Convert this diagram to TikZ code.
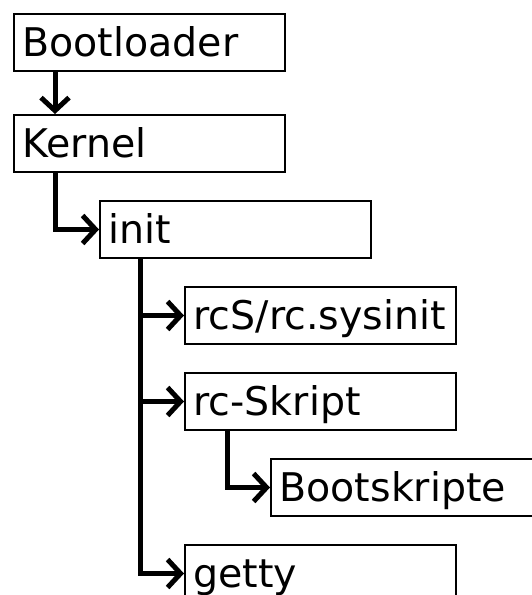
\documentclass[tikz,border=0pt]{standalone}
\usepackage{fontspec}
\setmainfont{DejaVu Sans}
\usetikzlibrary{arrows.meta}
\tikzset{
  box/.style={draw, line width=2pt, rectangle, anchor=north west,
    minimum height=57pt, text width=254pt, inner xsep=8.5pt, inner ysep=0pt,
    text height=28pt, text depth=0pt, align=left,
    font=\fontsize{39.5}{44}\selectfont},
  conn/.style={line width=5pt, -{Straight Barb[length=13pt,width=28pt]}}
}
\begin{document}
\begin{tikzpicture}[x=1pt,y=1pt]
\useasboundingbox (0,0) rectangle (531,-595);
\node[box] (boot) at (13,-13) {Bootloader};
\node[box] (kern) at (13,-114) {Kernel};
\node[box] (init) at (99,-200) {init};
\node[box] (rcs)  at (184,-286) {rcS/rc.sysinit};
\node[box] (rcsk) at (184,-372) {rc-Skript};
\node[box] (bsk)  at (270,-458) {Bootskripte};
\node[box] (getty) at (184,-544) {getty};
\draw[conn] ([xshift=42pt]boot.south west) -- ([xshift=42pt]kern.north west);
\draw[conn] ([xshift=42pt]kern.south west) |- (init.west);
\draw[conn] ([xshift=41pt]init.south west) |- (rcs.west);
\draw[conn] ([xshift=41pt]init.south west) |- (rcsk.west);
\draw[conn] ([xshift=41pt]init.south west) |- (getty.west);
\draw[conn] ([xshift=43pt]rcsk.south west) |- (bsk.west);
\end{tikzpicture}
\end{document}
